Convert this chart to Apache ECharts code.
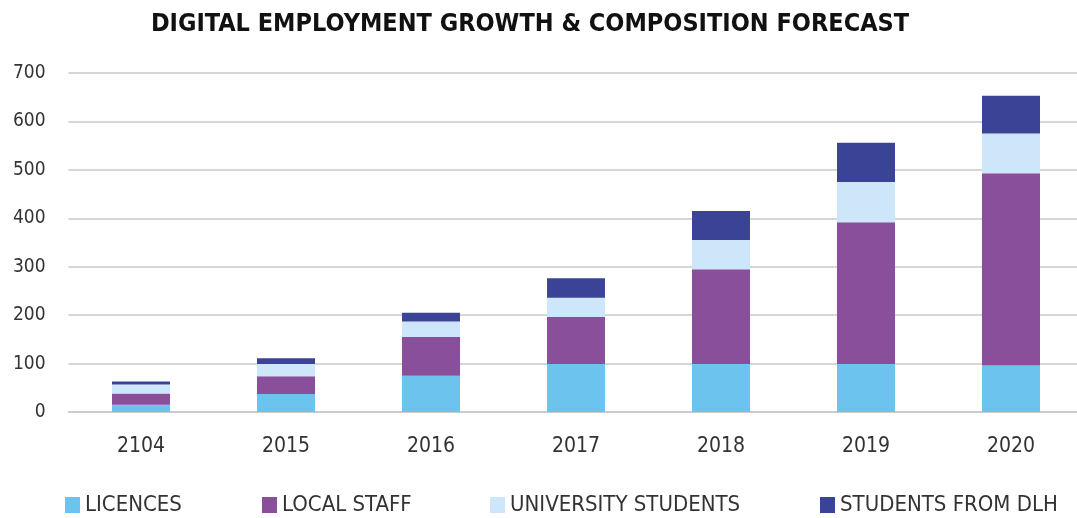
<!DOCTYPE html>
<html><head><meta charset="utf-8">
<script src="https://cdn.jsdelivr.net/npm/echarts@6/dist/echarts.min.js"></script>
<style>html,body{margin:0;padding:0;background:#fff}#c{width:1077px;height:518px}</style>
</head><body><div id="c"></div>
<script>
const categories = ['2104','2015','2016','2017','2018','2019','2020'];
const licences = [15, 37, 75, 99, 99, 99, 96];
const localStaff = [23, 37, 80, 97, 196, 293, 397];
const universityStudents = [19, 25, 32, 40, 60, 83, 82];
const studentsFromDLH = [6, 12, 18, 40, 60, 81, 78];
const seriesNames = ['LICENCES','LOCAL STAFF','UNIVERSITY STUDENTS','STUDENTS FROM DLH'];
const colors = ['#6CC3EE','#8A4F9B','#CDE6FA','#3B4396'];
const FONT = '"Liberation Sans Narrow","DejaVu Sans Condensed",sans-serif';

const chart = echarts.init(document.getElementById('c'), null, {renderer:'canvas'});
const values = [licences, localStaff, universityStudents, studentsFromDLH];
const legendLeft = [65, 262, 490, 820];
chart.setOption({
  animation:false,
  title:{text:'DIGITAL EMPLOYMENT GROWTH & COMPOSITION FORECAST', left:525, textAlign:'center', top:7,
    textStyle:{fontFamily:FONT, fontWeight:'bold', fontSize:25, color:'#111'}},
  grid:{left:68.5, width:1015, top:73, bottom:106, containLabel:false, outerBoundsMode:'none'},
  legend: seriesNames.map((n,i)=>({data:[n], left:legendLeft[i], top:494, padding:0, itemWidth:15, itemHeight:16, itemGap:6,
    icon:'rect', textStyle:{fontFamily:FONT, fontSize:22, color:'#333'}})),
  xAxis:{type:'category', data:categories, axisTick:{show:false},
    axisLine:{lineStyle:{color:'#c8c8c8', width:1.5}},
    axisLabel:{fontFamily:FONT, fontSize:21, color:'#333', margin:24}},
  yAxis:{type:'value', min:0, max:700, interval:100,
    axisLabel:{fontFamily:FONT, fontSize:19, color:'#333', margin:23},
    splitLine:{lineStyle:{color:'#c8c8c8', width:1.5}}, axisLine:{show:false}},
  series: seriesNames.map((n,i)=>({name:n, type:'bar', stack:'t', data:values[i], barWidth:58,
    itemStyle:{color:colors[i]}}))
});
</script></body></html>
